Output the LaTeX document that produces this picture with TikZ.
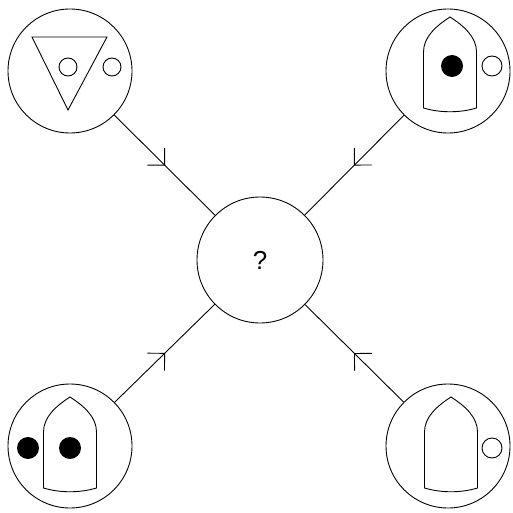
\documentclass[tikz,border=0pt]{standalone}
\usepackage{fontspec}
\setmainfont{Liberation Sans}
\usetikzlibrary{decorations.markings}
\begin{document}
\begin{tikzpicture}[x=1pt,y=-1pt,line width=0.9pt,
  disc/.style={circle,draw,minimum size=124pt,inner sep=0pt},
  hub/.style={circle,draw,minimum size=126pt,inner sep=0pt,font=\fontsize{26}{26}\selectfont},
  link/.style={postaction={decorate},decoration={markings,mark=at position 0.5 with {\draw[line cap=round] (-12pt,12pt) -- (0pt,0pt) -- (-12pt,-12pt);}}},
  pics/bullet/.style={code={
    \draw (0,0) .. controls (14,9) and (26.5,20) .. (26.5,35) -- (26.5,91)
      .. controls (10,96) and (-10,96) .. (-26.5,91) -- (-26.5,35)
      .. controls (-26.5,20) and (-14,9) .. cycle;
  }}]
\fill[white] (0,0) rectangle (513,513);
\useasboundingbox (0,0) rectangle (513,513);
\node[disc] (tl) at (70,71) {};
\node[disc] (tr) at (448,71) {};
\node[disc] (bl) at (70,446) {};
\node[disc] (br) at (448,446) {};
\node[hub] (c) at (260,260) {?};
\draw[link] (tl) -- (c);
\draw[link] (tr) -- (c);
\draw[link] (bl) -- (c);
\draw[link] (br) -- (c);
% top-left
\draw (32,37) -- (107,37) -- (68,110) -- cycle;
\draw (68,67) circle[radius=9];
\draw (112,67) circle[radius=9];
% top-right
\pic at (450,17) {bullet};
\fill (452,66) circle[radius=11];
\draw (492,66) circle[radius=10];
% bottom-left
\pic at (70,397) {bullet};
\fill (28,448) circle[radius=11];
\fill (70,448) circle[radius=11];
% bottom-right
\pic at (451,397) {bullet};
\draw (492,448) circle[radius=10];
\end{tikzpicture}
\end{document}
